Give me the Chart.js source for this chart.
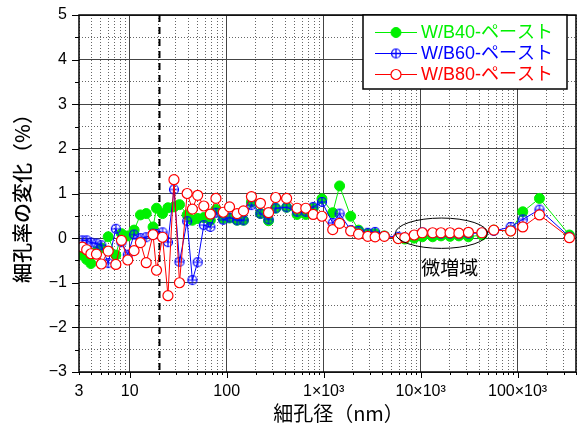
<!DOCTYPE html>
<html>
<head>
<meta charset="utf-8">
<script src="https://cdn.jsdelivr.net/npm/chart.js@4.4.1/dist/chart.umd.min.js"></script>
<style>
  html, body { margin: 0; padding: 0; background: #fff; }
  #wrap { width: 577px; height: 428px; }
</style>
</head>
<body>
<div id="wrap"><canvas id="c" width="577" height="428"></canvas></div>
<script>
// Pore diameter classes (nm)
const poreDiameter = [3.24, 3.6, 3.98, 4.54, 5.1, 6.0, 7.19, 8.22, 9.55, 11.1,
  12.9, 14.8, 17.4, 18.9, 21.8, 24.8, 28.6, 32.6, 39.1, 44.3,
  50.2, 58.1, 67.8, 77.5, 92.1, 107, 128, 149, 180, 223,
  270, 320, 415, 532, 654, 780, 960, 1240, 1460, 1900,
  2290, 2850, 3390, 4220, 5880, 6860, 8580, 10400, 13300, 16200,
  20100, 24800, 31100, 42800, 56800, 84800, 113000, 168000, 342000];

// Change in porosity (%) for each paste
const wb40 = [-0.38, -0.48, -0.57, -0.30, -0.22, 0.03, -0.38, 0.10, 0.05, 0.18,
  0.52, 0.55, 0.25, 0.67, 0.55, 0.68, 0.70, 0.75, 0.52, 0.40,
  0.44, 0.46, 0.40, 0.64, 0.44, 0.45, 0.40, 0.40, 0.81, 0.55,
  0.39, 0.67, 0.69, 0.53, 0.53, 0.67, 0.88, 0.57, 1.17, 0.49,
  0.18, 0.10, 0.10, 0.05, -0.01, -0.02, 0.00, 0.03, 0.03, 0.05,
  0.04, 0.05, 0.03, 0.07, 0.18, 0.16, 0.59, 0.89, 0.07];

const wb60 = [-0.05, -0.05, -0.10, -0.12, -0.16, -0.56, 0.21, -0.09, -0.37, 0.08,
  0.00, 0.02, 0.10, 0.09, 0.13, -0.09, 1.09, -0.53, 0.38, -0.94,
  -0.54, 0.29, 0.25, 0.57, 0.41, 0.46, 0.40, 0.40, 0.74, 0.55,
  0.42, 0.67, 0.69, 0.59, 0.59, 0.70, 0.81, 0.34, 0.55, 0.18,
  0.16, 0.12, 0.14, 0.05, 0.03, 0.01, 0.07, 0.13, 0.11, 0.10,
  0.10, 0.09, 0.10, 0.12, 0.16, 0.25, 0.42, 0.64, 0.03];

const wb80 = [-0.20, -0.26, -0.35, -0.36, -0.58, -0.29, -0.59, -0.05, -0.49, -0.28,
  -0.10, -0.55, 0.08, -0.72, 0.02, -1.29, 1.31, -1.00, 1.00, 0.65,
  0.96, 0.72, 0.54, 0.89, 0.58, 0.70, 0.55, 0.61, 0.93, 0.78,
  0.57, 0.91, 0.89, 0.67, 0.67, 0.53, 0.49, 0.19, 0.33, 0.16,
  0.09, 0.04, 0.03, 0.04, -0.01, 0.01, 0.07, 0.12, 0.12, 0.12,
  0.12, 0.11, 0.13, 0.12, 0.18, 0.16, 0.25, 0.52, 0.01];

const seriesNames = ['W/B40-ペースト', 'W/B60-ペースト', 'W/B80-ペースト'];
const xTickLabels = { 3: '3', 10: '10', 100: '100', 1000: '1×10³', 10000: '10×10³', 100000: '100×10³' };
const xTitle = '細孔径（nm）';
const yTitle = '細孔率の変化（%）';
const xRange = [3, 400000];
const yRange = [-3, 5];
const boundaryDiameter = 20;
const regionLabel = '微増域';
const regionX = [5500, 49000];
const regionY = [-0.23, 0.45];
const regionLabelAt = [20000, -0.66];

const GREEN = '#00f000', BLUE = '#0000ff', RED = '#ff0000';
const LATIN = '"Liberation Sans", Arial, "Noto Sans CJK JP", sans-serif';
const CJK = '"Noto Sans CJK JP", sans-serif';

const toPoints = ys => ys.map((v, i) => ({ x: poreDiameter[i], y: v }));
const isDecade = v => Math.abs(Math.log10(v) - Math.round(Math.log10(v))) < 1e-9;

// circle with a plus inside, used as the W/B60 marker
function crossCircle(color, r) {
  const c = document.createElement('canvas');
  const s = 2 * r + 3;
  c.width = c.height = s;
  const g = c.getContext('2d');
  const m = s / 2;
  g.strokeStyle = color;
  g.lineWidth = 1.2;
  g.beginPath(); g.arc(m, m, r, 0, Math.PI * 2); g.stroke();
  g.beginPath();
  g.moveTo(m - r, m); g.lineTo(m + r, m);
  g.moveTo(m, m - r); g.lineTo(m, m + r);
  g.stroke();
  return c;
}
const blueMarker = crossCircle(BLUE, 4.5);

// tick marks, frame, boundary line, region ellipse, axis caption and legend box
const decorations = {
  id: 'decorations',
  beforeDatasetsDraw(chart) {
    const { ctx, chartArea: a, scales: { x } } = chart;
    const px = Math.round(x.getPixelForValue(boundaryDiameter)) + 0.5;
    ctx.save();
    ctx.strokeStyle = '#000';
    ctx.lineWidth = 2;
    ctx.setLineDash([7, 5]);
    ctx.beginPath();
    ctx.moveTo(px, a.top);
    ctx.lineTo(px, a.bottom);
    ctx.stroke();
    ctx.restore();
  },
  afterDatasetsDraw(chart) {
    const { ctx, scales: { x, y } } = chart;
    const x0 = x.getPixelForValue(regionX[0]), x1 = x.getPixelForValue(regionX[1]);
    const y0 = y.getPixelForValue(regionY[1]), y1 = y.getPixelForValue(regionY[0]);
    ctx.save();
    ctx.strokeStyle = '#000';
    ctx.lineWidth = 1;
    ctx.beginPath();
    ctx.ellipse((x0 + x1) / 2, (y0 + y1) / 2, (x1 - x0) / 2, (y1 - y0) / 2, 0, 0, Math.PI * 2);
    ctx.stroke();
    ctx.fillStyle = '#000';
    ctx.font = '19px ' + CJK;
    ctx.textAlign = 'center';
    ctx.textBaseline = 'middle';
    ctx.fillText(regionLabel, x.getPixelForValue(regionLabelAt[0]), y.getPixelForValue(regionLabelAt[1]));
    ctx.restore();
  },
  afterDraw(chart) {
    const { ctx, chartArea: a, scales: { x, y } } = chart;
    ctx.save();
    // tick marks outside the frame
    ctx.strokeStyle = '#000';
    ctx.lineWidth = 1;
    ctx.beginPath();
    x.ticks.forEach(t => {
      const p = Math.round(x.getPixelForValue(t.value)) + 0.5;
      const len = isDecade(t.value) ? 6 : 3;
      ctx.moveTo(p, a.bottom); ctx.lineTo(p, a.bottom + len);
    });
    y.ticks.forEach(t => {
      const p = Math.round(y.getPixelForValue(t.value)) + 0.5;
      const len = Number.isInteger(t.value) ? 7 : 4;
      ctx.moveTo(a.left, p); ctx.lineTo(a.left - len, p);
    });
    ctx.stroke();
    // frame
    ctx.lineWidth = 1.5;
    ctx.strokeRect(a.left, a.top, a.right - a.left, a.bottom - a.top);

    // x-axis caption, a little right of the plot centre
    ctx.fillStyle = '#000';
    ctx.font = '20px ' + CJK;
    ctx.textAlign = 'center';
    ctx.textBaseline = 'middle';
    ctx.fillText(xTitle, (a.left + a.right) / 2 + 11, x.bottom - 15);

    // legend box
    const bw = 204, bh = 74;
    const bx = a.right - 9 - bw, by = a.top;
    ctx.fillStyle = '#fff';
    ctx.fillRect(bx, by, bw, bh);
    ctx.lineWidth = 1.5;
    ctx.strokeStyle = '#000';
    ctx.strokeRect(bx, by, bw, bh);
    const sets = chart.data.datasets;
    sets.forEach((ds, i) => {
      const ry = by + 17.5 + i * 21;
      const lx0 = bx + 12, lx1 = bx + 54, mx = bx + 33;
      ctx.strokeStyle = ds.borderColor;
      ctx.lineWidth = 1;
      ctx.beginPath(); ctx.moveTo(lx0, ry); ctx.lineTo(lx1, ry); ctx.stroke();
      if (ds.pointStyle instanceof HTMLCanvasElement) {
        ctx.drawImage(ds.pointStyle, mx - ds.pointStyle.width / 2, ry - ds.pointStyle.height / 2);
      } else {
        ctx.beginPath();
        ctx.arc(mx, ry, ds.pointRadius, 0, Math.PI * 2);
        ctx.fillStyle = ds.pointBackgroundColor;
        ctx.fill();
        ctx.lineWidth = ds.pointBorderWidth;
        ctx.strokeStyle = ds.pointBorderColor;
        ctx.stroke();
      }
      ctx.fillStyle = ds.borderColor;
      ctx.font = '18px ' + LATIN;
      ctx.textAlign = 'left';
      ctx.textBaseline = 'middle';
      ctx.fillText(ds.label, bx + 58, ry + 1);
    });
    ctx.restore();
  }
};

new Chart(document.getElementById('c'), {
  type: 'line',
  data: {
    datasets: [
      {
        label: seriesNames[0], data: toPoints(wb40), order: 3,
        borderColor: GREEN, borderWidth: 1,
        pointStyle: 'circle', pointRadius: 5,
        pointBackgroundColor: GREEN, pointBorderColor: GREEN, pointBorderWidth: 1
      },
      {
        label: seriesNames[1], data: toPoints(wb60), order: 2,
        borderColor: BLUE, borderWidth: 1,
        pointStyle: blueMarker, pointRadius: 5
      },
      {
        label: seriesNames[2], data: toPoints(wb80), order: 1,
        borderColor: RED, borderWidth: 1,
        pointStyle: 'circle', pointRadius: 5,
        pointBackgroundColor: '#fff', pointBorderColor: RED, pointBorderWidth: 1.2
      }
    ]
  },
  options: {
    responsive: false,
    animation: false,
    devicePixelRatio: 1,
    layout: { autoPadding: false, padding: { top: 15, right: 1, left: 0, bottom: 0 } },
    plugins: { legend: { display: false }, tooltip: { enabled: false } },
    elements: { line: { tension: 0 } },
    scales: {
      x: {
        type: 'logarithmic',
        min: xRange[0], max: xRange[1],
        afterBuildTicks(scale) {
          const t = [];
          for (let e = 0; e <= 5; e++) {
            for (let m = 1; m <= 9; m++) {
              const v = m * Math.pow(10, e);
              if (v >= xRange[0] && v <= xRange[1]) t.push({ value: v, major: m === 1 });
            }
          }
          scale.ticks = t;
        },
        afterFit(scale) {
          scale.height = 56;
          scale.paddingLeft = 0; scale.paddingRight = 0;
          scale.paddingTop = 0; scale.paddingBottom = 0;
        },
        ticks: {
          autoSkip: false, maxRotation: 0, minRotation: 0,
          padding: 10, color: '#000',
          font: { family: LATIN, size: 16 },
          callback: v => xTickLabels[v] ?? ''
        },
        grid: {
          drawTicks: false,
          lineWidth: 1,
          color: ctx => (ctx.tick && isDecade(ctx.tick.value)) ? '#444' : '#666'
        },
        border: {
          display: false,
          dash: ctx => (ctx.tick && !isDecade(ctx.tick.value)) ? [1, 2] : []
        },
        title: { display: false }
      },
      y: {
        type: 'linear',
        min: yRange[0], max: yRange[1],
        ticks: {
          stepSize: 0.5, padding: 12, color: '#000',
          font: { family: LATIN, size: 16 },
          callback: v => Number.isInteger(v) ? (v < 0 ? '\u2212' + Math.abs(v) : String(v)) : ''
        },
        afterFit(scale) {
          scale.width = 79;
          scale.paddingLeft = 0; scale.paddingRight = 0;
          scale.paddingTop = 0; scale.paddingBottom = 0;
        },
        grid: {
          drawTicks: false,
          lineWidth: 1,
          color: ctx => (ctx.tick && Number.isInteger(ctx.tick.value)) ? '#444' : '#666'
        },
        border: {
          display: false,
          dash: ctx => (ctx.tick && !Number.isInteger(ctx.tick.value)) ? [1, 2] : []
        },
        title: {
          display: true, text: yTitle, color: '#000',
          font: { family: CJK, size: 20, weight: '500' },
          padding: { top: 10, bottom: 0 }
        }
      }
    }
  },
  plugins: [decorations]
});
</script>
</body>
</html>
